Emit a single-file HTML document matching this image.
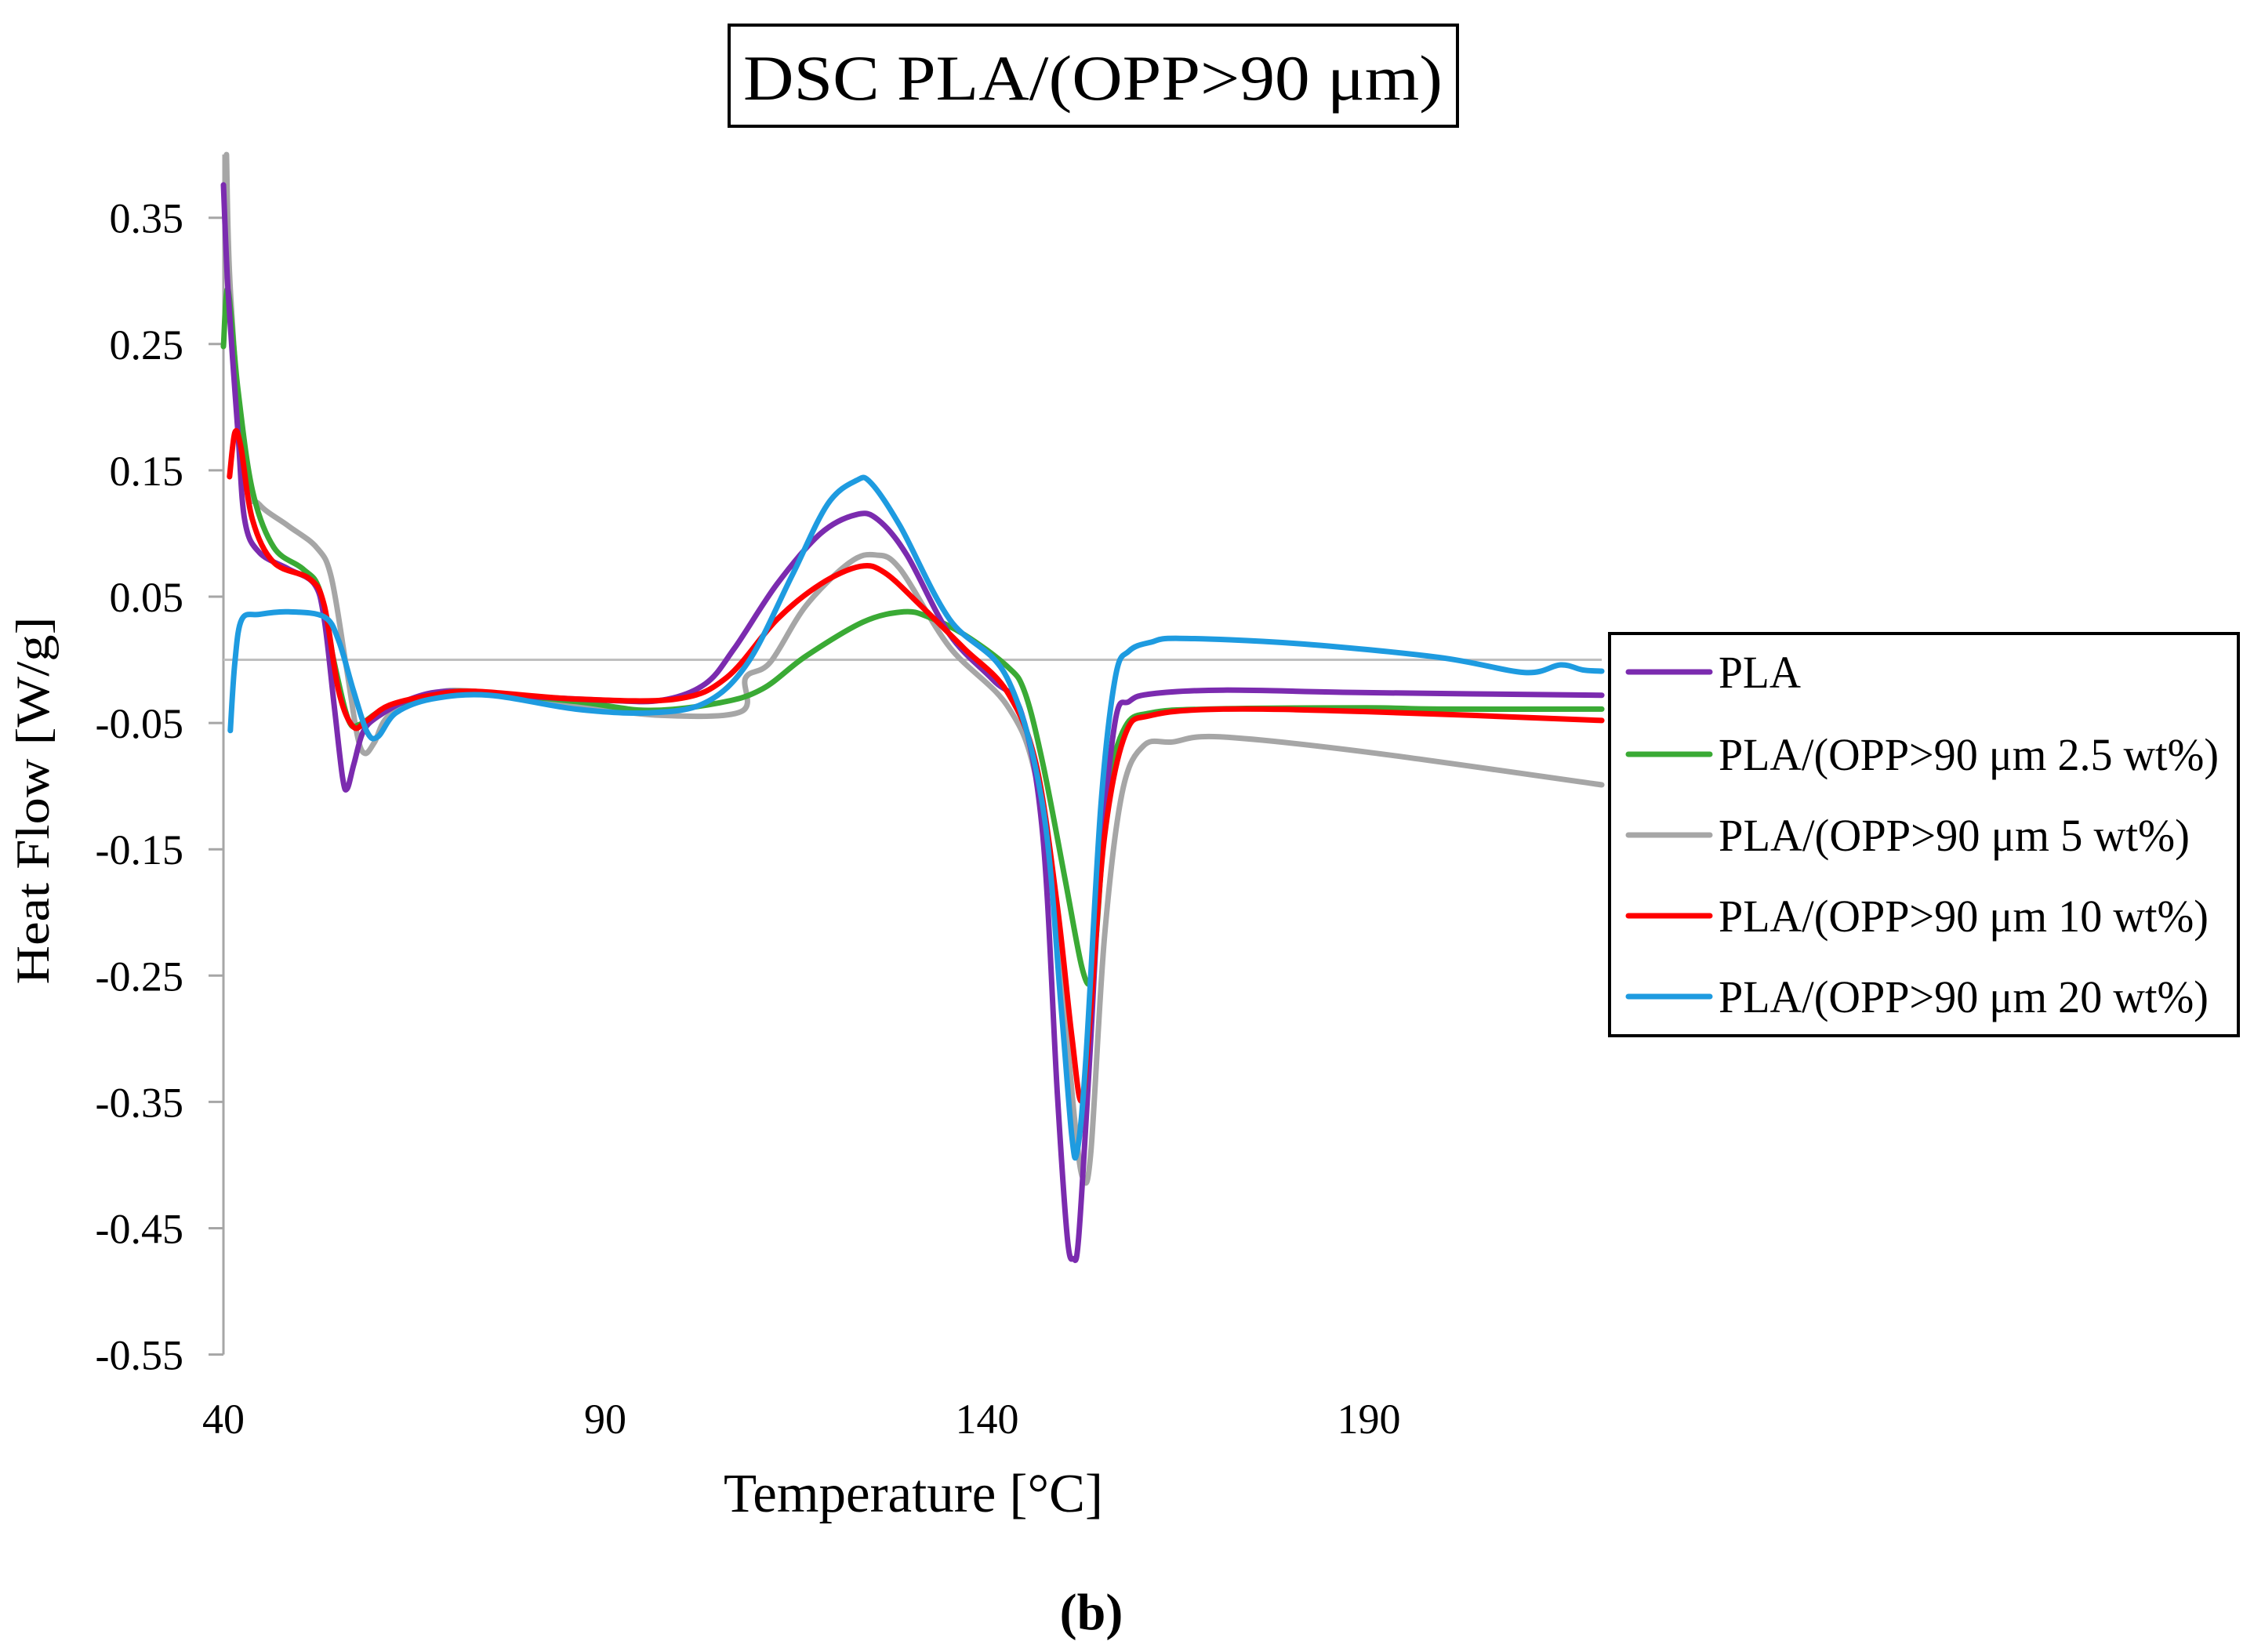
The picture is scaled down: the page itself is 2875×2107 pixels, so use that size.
<!DOCTYPE html>
<html><head><meta charset="utf-8"><style>
html,body{margin:0;padding:0;background:#fff;}
svg{display:block;}
text{font-family:"Liberation Serif",serif;fill:#000;}
</style></head>
<body>
<svg id="chart" width="2875" height="2107" viewBox="0 0 2875 2107" xmlns="http://www.w3.org/2000/svg">
<rect x="0" y="0" width="2875" height="2107" fill="#fff"/>
<rect x="930" y="32" width="929" height="129" fill="none" stroke="#000" stroke-width="4"/>
<text x="1394" y="127" font-size="82" text-anchor="middle" textLength="892" lengthAdjust="spacingAndGlyphs">DSC PLA/(OPP&gt;90 μm)</text>
<g id="axes"></g>
<g id="series"></g>
<text x="1165" y="1928" font-size="70" text-anchor="middle" textLength="484" lengthAdjust="spacingAndGlyphs">Temperature [°C]</text>
<text transform="translate(62,1021) rotate(-90)" x="0" y="0" font-size="60" text-anchor="middle" textLength="469" lengthAdjust="spacingAndGlyphs">Heat Flow [W/g]</text>
<text x="1392" y="2078" font-size="66" font-weight="bold" text-anchor="middle">(b)</text>
<g id="legend"></g>
</svg>
<script>
const xTicks = [40, 90, 140, 190];
const yTicks = [0.35, 0.25, 0.15, 0.05, -0.05, -0.15, -0.25, -0.35, -0.45, -0.55];
const yTickLabels = ["0.35","0.25","0.15","0.05","-0.05","-0.15","-0.25","-0.35","-0.45","-0.55"];
const seriesNames = ["PLA","PLA/(OPP>90 μm 2.5 wt%)","PLA/(OPP>90 μm 5 wt%)","PLA/(OPP>90 μm 10 wt%)","PLA/(OPP>90 μm 20 wt%)"];
const seriesColors = ["#7B2BAF","#3AAA35","#A6A6A6","#FF0000","#1E9BE0"];
const plaT = [40,40.6,41.9,42.8,44.7,48.5,51.9,53.2,54.5,55.6,56.2,57.1,58.3,60.2,64.5,69.2,76.7,89.9,97.4,103.1,106.9,112.5,118.2,122.9,125.7,129.5,135.1,140.8,144.5,147.3,149.2,150.5,151.3,152,153.4,154.9,156.8,158.6,161.5,170.9,189.7,220.5];
const plaV = [0.376,0.293,0.18,0.11,0.085,0.072,0.06,0.032,-0.036,-0.093,-0.102,-0.082,-0.057,-0.045,-0.031,-0.025,-0.028,-0.032,-0.032,-0.019,0.009,0.06,0.1,0.115,0.111,0.083,0.02,-0.016,-0.042,-0.139,-0.343,-0.457,-0.474,-0.457,-0.32,-0.161,-0.048,-0.033,-0.027,-0.024,-0.026,-0.028];
const g25T = [40,40.6,41.9,43.8,46.6,50.4,52.6,54.5,56.4,57.9,60.7,65.4,71.1,86.1,95.6,105,110.6,116.3,123.8,129.1,132.3,137,142.6,144.9,147.3,150.2,152.4,153.6,154.3,155.8,158.1,161.5,169,189.7,199.1,220.5];
const g25V = [0.248,0.293,0.214,0.134,0.089,0.072,0.055,-0.002,-0.048,-0.051,-0.04,-0.031,-0.025,-0.033,-0.04,-0.034,-0.023,0.003,0.03,0.038,0.034,0.02,-0.005,-0.025,-0.082,-0.173,-0.243,-0.255,-0.218,-0.105,-0.053,-0.042,-0.039,-0.038,-0.039,-0.039];
const g5T = [40.4,40.9,42.8,44.7,48.5,52.2,54.1,56,57.5,58.5,59.8,61.7,67.3,73,86.1,97.4,107.8,108.4,111.6,116.3,122,125.4,128.6,135.1,142.6,146.4,149.2,151.5,152.6,153.6,155.4,157.7,160.5,164.3,170.5,189.7,220.5];
const g5V = [0.40,0.293,0.145,0.123,0.106,0.089,0.066,-0.002,-0.059,-0.074,-0.065,-0.044,-0.027,-0.025,-0.036,-0.044,-0.041,-0.014,-0.002,0.043,0.077,0.083,0.072,0.01,-0.036,-0.093,-0.218,-0.366,-0.411,-0.389,-0.218,-0.105,-0.068,-0.065,-0.061,-0.073,-0.099];
const g10T = [40.8,41.5,42.3,43.8,46.6,51.3,53.2,55.1,57,58.8,61.7,67.3,73,86.1,99.3,105.9,112.5,118.2,123.4,126.6,131.3,137,142.6,146.4,149.2,151.1,152.4,153.6,155.4,158.1,161.5,170.9,189.7,220.5];
const g10V = [0.145,0.18,0.168,0.111,0.077,0.064,0.043,-0.025,-0.053,-0.048,-0.036,-0.028,-0.025,-0.031,-0.031,-0.014,0.032,0.06,0.074,0.069,0.043,0.009,-0.025,-0.082,-0.195,-0.298,-0.349,-0.275,-0.139,-0.059,-0.044,-0.039,-0.041,-0.048];
const g20T = [40.9,41.5,42.4,44.7,48.5,53.2,55.1,57,58.8,60.2,62.6,67.3,74.8,86.1,95.6,103.1,108.7,114.4,119.1,122.9,124.8,128.6,135.1,142.6,147.3,149.7,151.1,151.8,152.9,154.9,156.8,158.6,161.5,165.2,180.3,199.1,210.4,215.1,218,220.5];
const g20V = [-0.056,-0.002,0.032,0.036,0.038,0.034,0.015,-0.024,-0.057,-0.061,-0.042,-0.031,-0.028,-0.039,-0.042,-0.034,-0.002,0.066,0.123,0.142,0.14,0.106,0.032,-0.014,-0.116,-0.275,-0.377,-0.389,-0.32,-0.116,-0.014,0.007,0.014,0.017,0.013,0.002,-0.01,-0.004,-0.008,-0.009];
const seriesT = [plaT, g25T, g5T, g10T, g20T];
const seriesV = [plaV, g25V, g5V, g10V, g20V];

const NS = "http://www.w3.org/2000/svg";
function X(t){ return 285 + (t - 40) * 9.74; }
function Y(v){ return 277.7 + (0.35 - v) * 1611; }
function mk(tag, attrs, parent){ const e = document.createElementNS(NS, tag); for (const k in attrs) e.setAttribute(k, attrs[k]); parent.appendChild(e); return e; }

const axes = document.getElementById('axes');
const yAxis = mk('line', {x1:285, y1:Y(0.40), x2:285, y2:Y(-0.55), stroke:'#A6A6A6', 'stroke-width':3}, axes);


const zero = mk('line', {x1:285, y1:Y(0), x2:X(220.5), y2:Y(0), stroke:'#BFBFBF', 'stroke-width':3}, axes);


yTicks.forEach((v, i) => {
  const tk = mk('line', {x1:266, y1:Y(v), x2:285, y2:Y(v), stroke:'#A6A6A6', 'stroke-width':3}, axes);
  
  
  const lb = mk('text', {x:234, y:Y(v) + 19, 'font-size':54, 'text-anchor':'end'}, axes);
  lb.textContent = yTickLabels[i];
  
  
});
xTicks.forEach(t => {
  const lb = mk('text', {x:X(t), y:1828, 'font-size':54, 'text-anchor':'middle'}, axes);
  lb.textContent = String(t);
  
  
});

function pathFrom(ts, vs){
  const p = ts.map((t, i) => [X(t), Y(vs[i])]);
  let d = 'M' + p[0][0].toFixed(1) + ',' + p[0][1].toFixed(1);
  for (let i = 0; i < p.length - 1; i++){
    const p0 = p[i-1] || p[i], p1 = p[i], p2 = p[i+1], p3 = p[i+2] || p2;
    const c1x = p1[0] + (p2[0]-p0[0])/6, c1y = p1[1] + (p2[1]-p0[1])/6;
    const c2x = p2[0] - (p3[0]-p1[0])/6, c2y = p2[1] - (p3[1]-p1[1])/6;
    d += ' C' + c1x.toFixed(1) + ',' + c1y.toFixed(1) + ' ' + c2x.toFixed(1) + ',' + c2y.toFixed(1) + ' ' + p2[0].toFixed(1) + ',' + p2[1].toFixed(1);
  }
  return d;
}
const sg = document.getElementById('series');
const order = [2, 1, 0, 3, 4];
order.forEach(i => {
  const pth = mk('path', {d:pathFrom(seriesT[i], seriesV[i]), fill:'none', stroke:seriesColors[i], 'stroke-width':7, 'stroke-linejoin':'round', 'stroke-linecap':'round'}, sg);
  
  
});

const lg = document.getElementById('legend');
const box = mk('rect', {x:2053, y:808, width:802, height:513, fill:'#fff', stroke:'#000', 'stroke-width':4}, lg);


const legY = [857, 962, 1065, 1168, 1271];
const legW = [105, 638, 601, 625, 625];
seriesNames.forEach((n, i) => {
  const ln = mk('line', {x1:2077, y1:legY[i], x2:2181, y2:legY[i], stroke:seriesColors[i], 'stroke-width':7, 'stroke-linecap':'round'}, lg);
  
  
  const tx = mk('text', {x:2192, y:legY[i] + 20, 'font-size':58, textLength:legW[i], lengthAdjust:'spacingAndGlyphs'}, lg);
  tx.textContent = n;
  
  
});
</script>
</body></html>
